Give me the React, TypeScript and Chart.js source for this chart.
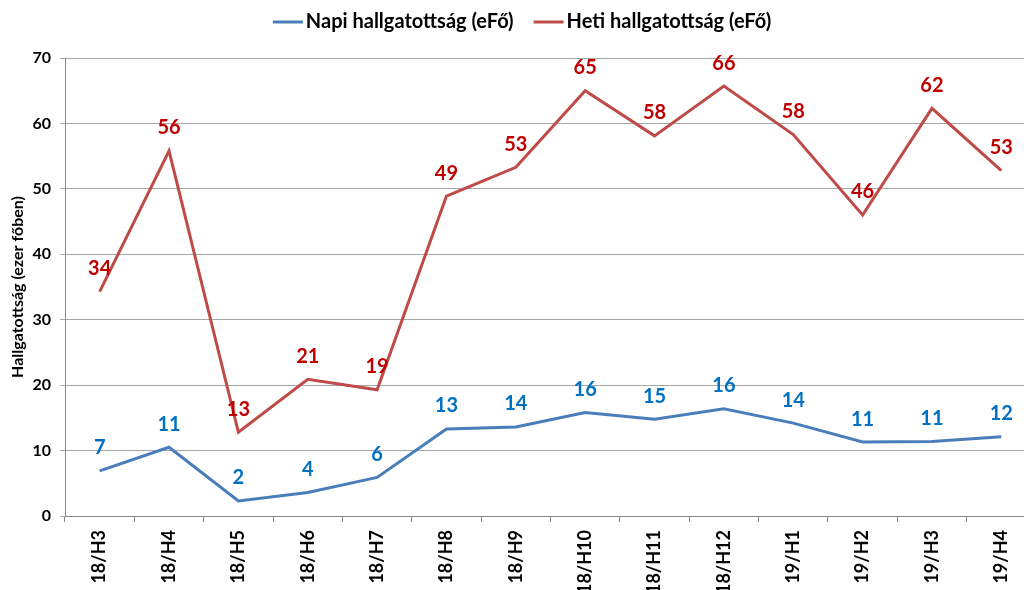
import React, { useEffect, useRef } from 'react';
import { Chart, registerables } from 'chart.js';

Chart.register(...registerables);

const categories = ['18/H3', '18/H4', '18/H5', '18/H6', '18/H7', '18/H8', '18/H9', '18/H10', '18/H11', '18/H12', '19/H1', '19/H2', '19/H3', '19/H4'];
const napiValues = [6.9, 10.5, 2.3, 3.6, 5.9, 13.3, 13.6, 15.8, 14.8, 16.4, 14.2, 11.3, 11.4, 12.1];
const hetiValues = [34.3, 55.8, 12.8, 20.9, 19.3, 48.9, 53.3, 65.0, 58.1, 65.7, 58.3, 46.0, 62.3, 52.8];
const seriesNames = ['Napi hallgatottság (eFő)', 'Heti hallgatottság (eFő)'];
const yAxisTitle = 'Hallgatottság (ezer főben)';
const yMin = 0;
const yMax = 70;
const yStep = 10;

const lineColors = ['#4A7EBB', '#BE4B48'];
const labelColors = ['#0070C0', '#C00000'];
const FONT = 'Lato, "Open Sans", sans-serif';

export default function App() {
  const ref = useRef<HTMLCanvasElement>(null);

  useEffect(() => {
    if (!ref.current) return;

    const dataLabels = {
      id: 'dataLabels',
      afterDatasetsDraw(chart: any) {
        const ctx = chart.ctx;
        chart.data.datasets.forEach((ds: any, i: number) => {
          const meta = chart.getDatasetMeta(i);
          ctx.save();
          ctx.font = `bold 20px ${FONT}`;
          ctx.fillStyle = labelColors[i];
          ctx.textAlign = 'center';
          ctx.textBaseline = 'middle';
          meta.data.forEach((pt: any, j: number) => {
            ctx.fillText(String(Math.round(ds.data[j])), pt.x, pt.y - 23);
          });
          ctx.restore();
        });
      },
    };

    const customLegend = {
      id: 'customLegend',
      afterDraw(chart: any) {
        const ctx = chart.ctx;
        ctx.save();
        ctx.font = `bold 20px ${FONT}`;
        const lineLen = 30;
        const gapLT = 3;
        const itemGap = 20;
        const widths = chart.data.datasets.map((ds: any) => ctx.measureText(ds.label).width);
        const total = widths.reduce((a: number, w: number) => a + w + lineLen + gapLT, 0) + itemGap * (widths.length - 1);
        let x = 522 - total / 2;
        const y = 22;
        chart.data.datasets.forEach((ds: any, i: number) => {
          ctx.strokeStyle = ds.borderColor;
          ctx.lineWidth = 3;
          ctx.beginPath();
          ctx.moveTo(x, y);
          ctx.lineTo(x + lineLen, y);
          ctx.stroke();
          ctx.fillStyle = '#000';
          ctx.textAlign = 'left';
          ctx.textBaseline = 'middle';
          ctx.fillText(ds.label, x + lineLen + gapLT, y);
          x += lineLen + gapLT + widths[i] + itemGap;
        });
        ctx.restore();
      },
    };

    const chart = new Chart(ref.current, {
      type: 'line',
      data: {
        labels: categories,
        datasets: [
          {
            label: seriesNames[0],
            data: napiValues,
            borderColor: lineColors[0],
            backgroundColor: lineColors[0],
            borderWidth: 3,
            pointRadius: 0,
            tension: 0,
          },
          {
            label: seriesNames[1],
            data: hetiValues,
            borderColor: lineColors[1],
            backgroundColor: lineColors[1],
            borderWidth: 3,
            pointRadius: 0,
            tension: 0,
          },
        ],
      },
      options: {
        responsive: false,
        animation: false,
        devicePixelRatio: 1,
        layout: { padding: { top: 58, left: 0, right: 0, bottom: 0 } },
        plugins: {
          legend: { display: false },
          tooltip: { enabled: false },
        },
        scales: {
          x: {
            offset: true,
            grid: {
              offset: true,
              drawOnChartArea: false,
              drawTicks: true,
              tickLength: 6,
              color: '#868686',
            },
            border: { color: '#868686', width: 1 },
            ticks: {
              minRotation: 90,
              maxRotation: 90,
              padding: 8,
              color: '#000',
              font: { family: FONT, size: 18, weight: 'bold' },
            },
            afterFit(scale: any) {
              scale.height = 74;
            },
          },
          y: {
            min: yMin,
            max: yMax,
            grid: {
              color: '#A6A6A6',
              tickLength: 5,
              drawTicks: true,
            },
            border: { color: '#868686', width: 1 },
            ticks: {
              stepSize: yStep,
              padding: 9,
              color: '#000',
              font: { family: FONT, size: 16, weight: 'bold' },
            },
            title: {
              display: true,
              text: yAxisTitle,
              color: '#000',
              padding: { top: 8, bottom: 0 },
              font: { family: FONT, size: 16, weight: 'bold' },
            },
            afterFit(scale: any) {
              scale.width = 65;
            },
          },
        },
      },
      plugins: [dataLabels, customLegend],
    });

    return () => {
      chart.destroy();
    };
  }, []);

  return (
    <div style={{ position: 'fixed', left: 0, top: 0, width: 1024, height: 590, overflow: 'hidden', background: '#fff' }}>
      <canvas ref={ref} width={1036} height={590} style={{ display: 'block' }} />
    </div>
  );
}
